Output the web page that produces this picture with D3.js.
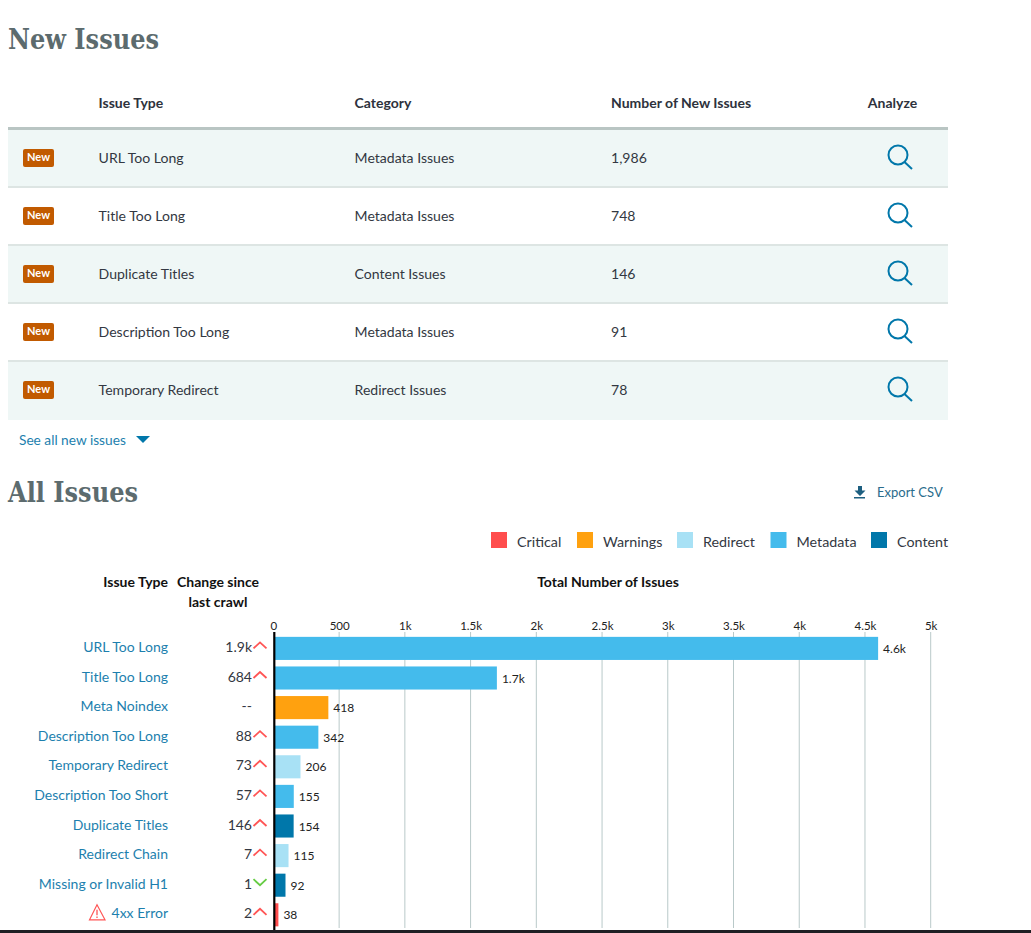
<!DOCTYPE html>
<html><head><meta charset="utf-8">
<script src="https://cdnjs.cloudflare.com/ajax/libs/d3/7.8.5/d3.min.js"></script>
<style>
html,body{margin:0;padding:0;background:#fff;overflow:hidden}
svg{display:block}
text{font-family:Lato,"Open Sans",sans-serif}
</style></head><body><svg id="c" width="1031" height="933"></svg>
<script>
const newTypes=["URL Too Long","Title Too Long","Duplicate Titles","Description Too Long","Temporary Redirect"];
const newCategories=["Metadata Issues","Metadata Issues","Content Issues","Metadata Issues","Redirect Issues"];
const newCounts=["1,986","748","146","91","78"];
const newHeaders=["Issue Type","Category","Number of New Issues","Analyze"];

const issueTypes=["URL Too Long","Title Too Long","Meta Noindex","Description Too Long","Temporary Redirect","Description Too Short","Duplicate Titles","Redirect Chain","Missing or Invalid H1","4xx Error"];
const groups=["Metadata","Metadata","Warnings","Metadata","Redirect","Metadata","Content","Redirect","Content","Critical"];
const changes=["1.9k","684","--","88","73","57","146","7","1","2"];
const directions=["up","up","none","up","up","up","up","up","down","up"];
const totals=[4600,1700,418,342,206,155,154,115,92,38];
const totalLabels=["4.6k","1.7k","418","342","206","155","154","115","92","38"];
const tickValues=[0,500,1000,1500,2000,2500,3000,3500,4000,4500,5000];
const tickLabels=["0","500","1k","1.5k","2k","2.5k","3k","3.5k","4k","4.5k","5k"];
const legendNames=["Critical","Warnings","Redirect","Metadata","Content"];
const legendColors=["#ff4d4d","#ffa10f","#a8e1f5","#44bbec","#0077aa"];

const svg=d3.select("#c");
const ink="#333842", link="#1d7fae", slate="#5c6b6e";
const color=d3.scaleOrdinal(legendNames,legendColors);

function heading(t,y){svg.append("text").attr("x",8).attr("y",y).attr("font-size",27).attr("font-weight",700)
  .style("font-family","'DejaVu Serif',serif").attr("fill",slate).attr("textLength",t==="New Issues"?151:130).attr("lengthAdjust","spacingAndGlyphs").text(t);}
heading("New Issues",49);
heading("All Issues",502);

// New issues table
const rowY=d3.scaleBand().domain(newTypes).range([130,420]);
const colX=[98.6,354.6,611];
newHeaders.forEach((h,i)=>{
  svg.append("text").attr("x",i<3?colX[i]:892.5).attr("y",108).attr("text-anchor",i<3?"start":"middle")
    .attr("font-size",14).attr("font-weight",700).attr("fill","#2e323c").text(h);
});
svg.append("rect").attr("x",8).attr("y",127).attr("width",940).attr("height",3).attr("fill","#b9c5c3");
const rows=svg.append("g").selectAll("g").data(newTypes).join("g")
  .attr("transform",d=>`translate(0,${rowY(d)})`);
rows.append("rect").attr("x",8).attr("width",940).attr("height",rowY.bandwidth())
  .attr("fill",(d,i)=>i%2===0?"#eff7f6":"#fff");
rows.filter((d,i)=>i<4).append("rect").attr("x",8).attr("y",56).attr("width",940).attr("height",2).attr("fill","#dde5e3");
rows.append("rect").attr("x",23).attr("y",19).attr("width",31).attr("height",18).attr("rx",2).attr("fill","#c15a00");
rows.append("text").attr("x",38.5).attr("y",31).attr("text-anchor","middle").attr("font-size",11).attr("font-weight",700).attr("fill","#fff").text("New");
rows.append("text").attr("x",colX[0]).attr("y",33).attr("font-size",14.05).attr("fill",ink).text(d=>d);
rows.append("text").attr("x",colX[1]).attr("y",33).attr("font-size",14.05).attr("fill",ink).text((d,i)=>newCategories[i]);
rows.append("text").attr("x",colX[2]).attr("y",33).attr("font-size",14.05).attr("fill",ink).text((d,i)=>newCounts[i]);
rows.append("circle").attr("cx",898).attr("cy",25).attr("r",9.5).attr("fill","none").attr("stroke","#0077aa").attr("stroke-width",2);
rows.append("path").attr("d","M904.5,32L912,39").attr("fill","none").attr("stroke","#0077aa").attr("stroke-width",2);

svg.append("text").attr("x",19).attr("y",445).attr("font-size",13.7).attr("fill",link).text("See all new issues");
svg.append("path").attr("d","M136,436H150L143,443Z").attr("fill","#0077aa");

// Export
svg.append("path").attr("d","M858,486H862V490.5H865.5L860,496L854.5,490.5H858Z").attr("fill","#1d5f80");
svg.append("rect").attr("x",854).attr("y",497).attr("width",11).attr("height",1.5).attr("fill","#1d5f80");
svg.append("text").attr("x",877).attr("y",497).attr("font-size",13).attr("fill","#2a6c8c").text("Export CSV");

// Legend
const legendX=[491,577,677,770.5,871];
const lg=svg.append("g").selectAll("g").data(legendNames).join("g").attr("transform",(d,i)=>`translate(${legendX[i]},532)`);
lg.append("rect").attr("width",16).attr("height",16).attr("fill",d=>color(d));
lg.append("text").attr("x",26).attr("y",15).attr("font-size",14.3).attr("fill",ink).text(d=>d);

// Column titles
const th=(t,x,y,a)=>svg.append("text").attr("x",x).attr("y",y).attr("text-anchor",a).attr("font-size",14).attr("font-weight",700).attr("fill","#111").text(t);
th("Issue Type",168,587,"end");
th("Change since",218,587,"middle");
th("last crawl",218,607,"middle");
th("Total Number of Issues",608,587,"middle");

// Bar chart
const x=d3.scaleLinear().domain([0,5000]).range([273.4,930.7]);
const y=d3.scaleBand().domain(issueTypes).range([633.6,929.6]).paddingInner(.22).paddingOuter(.11);
const yc=d=>y(d)+y.bandwidth()/2;

const axis=d3.axisTop(x).tickValues(tickValues).tickFormat((d,i)=>tickLabels[i]).tickSize(0).tickPadding(0);
const ag=svg.append("g").attr("transform","translate(0,630)").call(axis);
ag.select(".domain").remove();
ag.selectAll("text").attr("font-size",11.5).attr("fill","#222").style("font-family","Lato,sans-serif");

svg.append("g").selectAll("line").data(tickValues.slice(1)).join("line")
  .attr("x1",d=>x(d)).attr("x2",d=>x(d)).attr("y1",632).attr("y2",928)
  .attr("stroke","#b9c9c9").attr("stroke-width",1);

svg.append("g").selectAll("rect").data(issueTypes).join("rect")
  .attr("x",x(0)+1.6).attr("y",d=>y(d)).attr("height",y.bandwidth())
  .attr("width",(d,i)=>x(totals[i])-x(0)-1.6).attr("fill",(d,i)=>color(groups[i]));

svg.append("line").attr("x1",x(0)+0.9).attr("x2",x(0)+0.9).attr("y1",632).attr("y2",930).attr("stroke","#000").attr("stroke-width",2.2);

svg.append("g").selectAll("text").data(issueTypes).join("text")
  .attr("x",(d,i)=>x(totals[i])+5).attr("y",d=>yc(d)+4.6).attr("font-size",12).attr("fill","#222")
  .text((d,i)=>totalLabels[i]);

svg.append("g").selectAll("text").data(issueTypes).join("text")
  .attr("x",168).attr("y",d=>yc(d)+3.6).attr("text-anchor","end").attr("font-size",14).attr("fill",link).text(d=>d);

svg.append("g").selectAll("text").data(issueTypes).join("text")
  .attr("x",252).attr("y",d=>yc(d)+3.6).attr("text-anchor","end").attr("font-size",14).attr("fill",ink)
  .text((d,i)=>changes[i]);

svg.append("g").selectAll("path").data(issueTypes).join("path")
  .attr("transform",d=>`translate(260,${yc(d)})`)
  .attr("fill","none").attr("stroke-width",1.8)
  .attr("stroke",(d,i)=>directions[i]==="down"?"#66cc44":"#ff5555")
  .attr("d",(d,i)=>directions[i]==="up"?"M-6.5,0L0,-6L6.5,0":directions[i]==="down"?"M-6.5,-6L0,0L6.5,-6":null);

// Warning icon on the critical row
const wy=yc("4xx Error");
svg.append("path").attr("d",`M97,${wy-10}L105,${wy+5}H89.5Z`).attr("fill","none").attr("stroke","#ff5555").attr("stroke-width",1.2);
svg.append("path").attr("d",`M97,${wy-5}V${wy+0.5}M97,${wy+1.8}V${wy+3.2}`).attr("stroke","#ff5555").attr("stroke-width",1.3);

svg.append("rect").attr("x",0).attr("y",930).attr("width",1031).attr("height",3).attr("fill","#1f2024");
</script></body></html>
